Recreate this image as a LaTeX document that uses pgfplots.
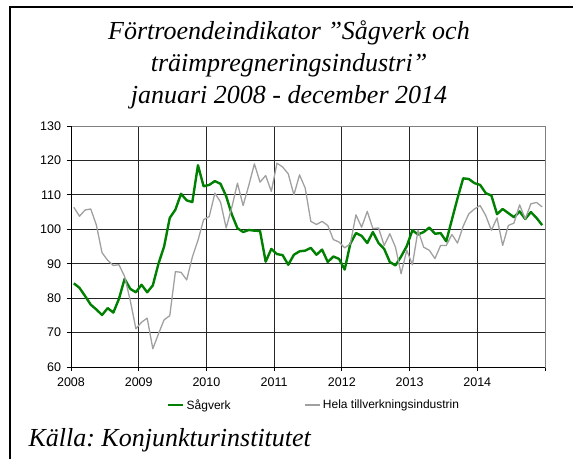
\documentclass[border=0pt]{standalone}
\usepackage{fontspec}
\setmainfont{Liberation Serif}
\newfontfamily\arial{Liberation Sans}
\usepackage{pgfplots}
\usepackage{pgfplotstable}
\pgfplotsset{compat=1.18}
\definecolor{sgreen}{RGB}{0,128,0}
\definecolor{hgray}{RGB}{160,160,160}
\pgfplotstableread{
s h
84.3 106.4
83.0 103.8
80.6 105.6
78.1 105.9
76.7 101.2
75.1 93.2
77.1 91.0
75.8 89.5
79.8 89.7
85.6 86.3
82.7 79.3
81.7 71.1
83.9 73.0
81.7 74.2
83.7 65.3
90.0 69.6
95.0 73.7
103.3 74.9
105.7 87.7
110.3 87.5
108.4 85.3
107.9 91.9
118.6 96.8
112.5 102.8
112.9 103.7
114.0 110.5
113.2 107.9
109.6 100.4
104.3 106.4
100.3 113.4
99.2 106.9
99.8 112.7
99.6 119.0
99.5 113.7
90.6 115.6
94.3 111.0
92.8 119.2
92.5 118.1
89.7 116.1
92.6 110.0
93.6 115.8
93.8 112.0
94.6 102.3
92.6 101.4
94.1 102.3
90.5 101.1
92.1 97.0
91.4 96.3
88.3 94.6
95.8 95.8
98.9 104.2
98.1 100.6
96.0 105.2
99.2 100.2
96.0 100.4
94.3 95.3
90.5 98.7
89.5 94.8
92.1 87.1
95.1 93.9
99.7 89.7
98.5 99.7
99.2 94.8
100.5 93.9
98.7 91.5
98.9 95.3
96.5 95.3
102.8 98.5
109.0 96.0
114.8 100.9
114.6 104.5
113.4 105.9
112.9 106.9
110.5 104.0
109.8 99.7
104.4 103.3
105.9 95.3
104.7 101.1
103.5 101.8
105.2 107.1
103.0 103.0
105.0 107.4
103.3 107.8
101.2 106.5
}\data
\begin{document}
\frenchspacing
\begin{tikzpicture}[x=1pt,y=1pt]
\path[use as bounding box] (0,0) rectangle (573,459);
\draw[line width=2pt,black] (10,0) -- (10,452) -- (573,452);
\node[align=center,font=\itshape\fontsize{26}{32}\selectfont] at (289,394)
  {Förtroendeindikator ”Sågverk och\\träimpregneringsindustri”\\januari 2008 - december 2014};
\node[anchor=west,font=\itshape\fontsize{26}{30}\selectfont] at (25,19) {Källa: Konjunkturinstitutet};
\begin{axis}[
  at={(71pt,92pt)}, anchor=south west,
  scale only axis, width=474pt, height=241pt,
  xmin=0, xmax=84, ymin=60, ymax=130,
  xtick={0,12,...,84},
  xticklabels={2008,2009,2010,2011,2012,2013,2014,},
  ytick={60,70,...,130},
  xtick pos=bottom, ytick pos=left,
  tick align=outside,
  major tick length=4pt,
  tick style={black, line width=0.8pt},
  grid=major,
  major grid style={black!85, line width=0.9pt},
  axis line style={gray, line width=0.9pt},
  ticklabel style={font=\arial\fontsize{12.5}{14}\selectfont},
  xticklabel style={yshift=-3pt},
  yticklabel style={xshift=-2.5pt},
  /pgf/number format/assume math mode=true,
  legend style={at={(0.513,-0.158)}, anchor=center, draw=none, fill=none,
    legend columns=2, font=\arial\fontsize{12}{14}\selectfont,
    /tikz/every even column/.append style={column sep=72pt},
    inner sep=0pt},
  legend cell align=left,
  legend image code/.code={\draw[#1] (0pt,0pt) -- (15pt,0pt);},
  after end axis/.code={
    \draw[black, line width=0.9pt] (rel axis cs:0,1) -- (rel axis cs:0,0) -- (rel axis cs:1,0);
  },
]
\addplot[sgreen, line width=2.4pt, line join=round] table[x expr=\coordindex+0.5, y=s] {\data};
\addlegendentry{Sågverk}
\addplot[hgray, line width=1.3pt, line join=round] table[x expr=\coordindex+0.5, y=h] {\data};
\addlegendentry{Hela tillverkningsindustrin}
\end{axis}
\end{tikzpicture}
\end{document}
